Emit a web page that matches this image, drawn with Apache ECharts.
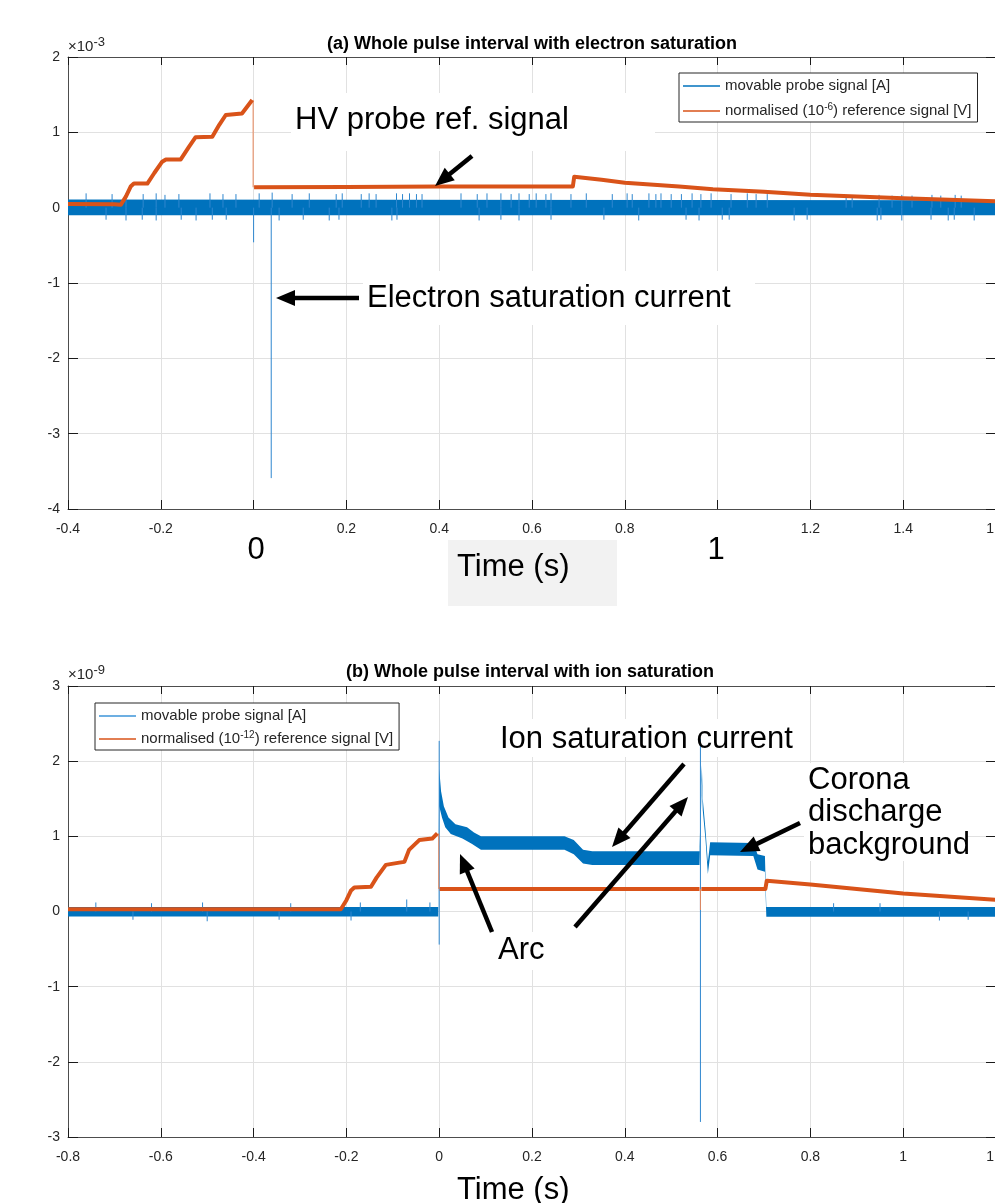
<!DOCTYPE html>
<html>
<head>
<meta charset="utf-8">
<title>Whole pulse interval</title>
<script src="https://cdn.jsdelivr.net/npm/echarts@6/dist/echarts.min.js"></script>
<style>
  html, body { margin: 0; padding: 0; background: #fff; }
  #chart { width: 995px; height: 1203px; }
</style>
</head>
<body>
<div id="chart"></div>
<script>
// ---------- (a) electron saturation, y in units of 1e-3 ----------
var xRangeA = [-0.4, 1.6];
var yRangeA = [-4, 2];
var hiddenTickLabelsA = [0, 1];   // these two were painted over by big labels

// noise band of the probe signal: upper and lower envelope
var probeHiA = [[-0.4, 0.11], [1.6, 0.10]];
var probeLoA = [[-0.4, -0.10], [1.6, -0.10]];
// small spikes out of the band [t, peak]
var probeSpikesA = [
  [-0.361, 0.19], [-0.305, 0.18], [-0.275, 0.19], [-0.238, 0.18], [-0.210, 0.19], [-0.191, 0.17],
  [-0.161, 0.18], [-0.094, 0.19], [-0.066, 0.18], [-0.038, 0.18], [0.012, 0.19], [0.040, 0.20],
  [0.083, 0.18], [0.120, 0.19], [0.178, 0.18], [0.191, 0.19], [0.232, 0.18], [0.249, 0.19],
  [0.264, 0.18], [0.308, 0.19], [0.321, 0.18], [0.336, 0.19], [0.351, 0.18], [0.363, 0.18],
  [0.447, 0.19], [0.482, 0.18], [0.503, 0.19], [0.533, 0.19], [0.555, 0.18], [0.572, 0.19],
  [0.594, 0.18], [0.609, 0.19], [0.630, 0.18], [0.641, 0.19], [0.684, 0.18], [0.717, 0.19],
  [0.773, 0.18], [0.805, 0.19], [0.816, 0.18], [0.852, 0.19], [0.867, 0.18], [0.878, 0.19],
  [0.900, 0.18], [0.922, 0.18], [0.945, 0.19], [0.964, 0.18], [0.986, 0.19], [1.029, 0.18],
  [1.064, 0.19], [1.083, 0.18], [1.107, 0.18], [1.277, 0.17], [1.290, 0.16], [1.348, 0.17],
  [1.376, 0.16], [1.397, 0.17], [1.419, 0.16], [1.462, 0.17], [1.481, 0.16], [1.512, 0.17],
  [1.525, 0.16],
  [-0.318, -0.16], [-0.275, -0.17], [-0.240, -0.16], [-0.210, -0.17], [-0.156, -0.16], [-0.124, -0.17],
  [-0.089, -0.16], [-0.059, -0.16], [0.055, -0.17], [0.107, -0.16], [0.163, -0.17], [0.184, -0.16],
  [0.298, -0.17], [0.309, -0.16], [0.486, -0.17], [0.533, -0.16], [0.572, -0.17], [0.641, -0.16],
  [0.755, -0.16], [0.830, -0.17], [0.932, -0.16], [0.960, -0.17], [1.010, -0.16], [1.025, -0.16],
  [1.165, -0.17], [1.193, -0.16], [1.344, -0.17], [1.352, -0.16], [1.397, -0.17], [1.460, -0.16],
  [1.497, -0.17], [1.510, -0.16], [1.553, -0.17]
];
// large spikes [t, from, to]
var probeBigA = [[0.0, 0, -0.46], [0.038, 0, -3.59]];
// HV reference (normalised); '-' breaks the thick line at the fast drop
var refA = [
  [-0.4, 0.05], [-0.3, 0.045], [-0.286, 0.04], [-0.275, 0.15], [-0.265, 0.28], [-0.258, 0.32],
  [-0.229, 0.32], [-0.214, 0.46], [-0.197, 0.61], [-0.189, 0.64], [-0.157, 0.64], [-0.139, 0.81],
  [-0.125, 0.935], [-0.122, 0.94], [-0.089, 0.94], [-0.074, 1.10], [-0.060, 1.23], [-0.057, 1.25],
  [-0.025, 1.25], [-0.003, 1.43], [0.0, '-'], [0.001, 0.27], [0.2, 0.275], [0.4, 0.28],
  [0.688, 0.28], [0.691, 0.41], [0.75, 0.37], [0.8, 0.33], [0.917, 0.28], [0.99, 0.245],
  [1.1, 0.21], [1.2, 0.17], [1.4, 0.125], [1.6, 0.085]
];
var refJumpsA = [[-0.001, 1.43, 0.27]];

// ---------- (b) ion saturation, y in units of 1e-9 ----------
var xRangeB = [-0.8, 1.2];
var yRangeB = [-3, 3];

var probeHiB = [
  [-0.8, 0.06], [-0.002, 0.06], [0.0, 1.9], [0.004, 1.6], [0.01, 1.4], [0.02, 1.25], [0.035, 1.16],
  [0.06, 1.12], [0.075, 1.05], [0.09, 1.0], [0.27, 1.0], [0.29, 0.95], [0.31, 0.82], [0.33, 0.80],
  [0.561, 0.80], [0.566, 1.95], [0.568, 1.5], [0.574, 1.08], [0.579, 0.66], [0.584, 0.92],
  [0.677, 0.91], [0.686, 0.76], [0.702, 0.74], [0.705, 0.06], [1.2, 0.06]
];
var probeLoB = [
  [-0.8, -0.065], [-0.002, -0.065], [0.0, 1.4], [0.006, 1.25], [0.013, 1.12], [0.025, 1.03],
  [0.05, 0.97], [0.07, 0.9], [0.09, 0.82], [0.27, 0.82], [0.29, 0.76], [0.31, 0.64], [0.33, 0.62],
  [0.561, 0.62], [0.566, 1.75], [0.568, 1.35], [0.574, 0.95], [0.579, 0.5], [0.584, 0.75],
  [0.677, 0.74], [0.686, 0.56], [0.702, 0.53], [0.705, -0.07], [1.2, -0.07]
];
var probeSpikesB = [
  [-0.74, 0.12], [-0.62, 0.11], [-0.51, 0.12], [-0.32, 0.11], [-0.17, 0.12], [-0.07, 0.16], [-0.02, 0.12],
  [-0.66, -0.11], [-0.50, -0.13], [-0.345, -0.11], [-0.19, -0.12], [0.85, 0.11], [0.95, 0.11],
  [1.078, -0.12], [1.14, -0.11]
];
var probeBigB = [[0.0, -0.44, 2.27], [0.563, -2.8, 2.3]];
var refB = [
  [-0.8, 0.03], [-0.212, 0.03], [-0.2, 0.15], [-0.19, 0.28], [-0.183, 0.32], [-0.147, 0.33],
  [-0.135, 0.45], [-0.115, 0.62], [-0.112, 0.63], [-0.086, 0.65], [-0.075, 0.66], [-0.065, 0.82],
  [-0.043, 0.95], [-0.015, 0.97], [-0.004, 1.04], [0.0, '-'], [0.001, 0.30], [0.3, 0.30],
  [0.561, 0.30], [0.5625, '-'], [0.565, 0.30], [0.703, 0.30], [0.706, 0.41], [0.8, 0.36],
  [1.0, 0.24], [1.2, 0.155]
];
var refJumpsB = [[-0.001, 1.04, 0.30], [0.563, 0.30, 0.02]];

var probeName = 'movable probe signal [A]';
var refNameA = 'normalised (10-6) reference signal [V]';
var refNameB = 'normalised (10-12) reference signal [V]';

var BLUE = '#0072BD';
var SPIKE = '#2f87cf';
var ORANGE = '#D95319';
var AXIS = '#4d4d4d';
var LABEL = '#262626';
var FONT = 'Arial, "Liberation Sans", sans-serif';

var myChart = echarts.init(document.getElementById('chart'));

function fmt (v) {
  return String(Math.round(v * 10) / 10);
}

// vertical segments with gaps in between
function segData (list) {
  var out = [];
  list.forEach(function (s) {
    var from = s.length > 2 ? s[1] : 0;
    var to = s.length > 2 ? s[2] : s[1];
    out.push([s[0], from], [s[0], to], [s[0], '-']);
  });
  return out;
}

// filled band between two envelopes
function band (ax, hi, lo) {
  return {
    type: 'custom', xAxisIndex: ax, yAxisIndex: ax, silent: true, clip: true, z: 2,
    data: [[hi[0][0], hi[0][1]]],
    renderItem: function (params, api) {
      var pts = hi.map(function (p) { return api.coord(p); })
        .concat(lo.slice().reverse().map(function (p) { return api.coord(p); }));
      return { type: 'polygon', shape: { points: pts }, style: { fill: BLUE } };
    }
  };
}

function thin (ax, name, data, color) {
  return {
    type: 'line', name: name, xAxisIndex: ax, yAxisIndex: ax, data: data,
    symbol: 'none', connectNulls: false, silent: true, z: 3,
    lineStyle: { color: color, width: 1 }, itemStyle: { color: color }
  };
}

function thick (ax, name, data) {
  return {
    type: 'line', name: name, xAxisIndex: ax, yAxisIndex: ax, data: data,
    symbol: 'none', connectNulls: false, silent: true, z: 4,
    lineStyle: { color: ORANGE, width: 4, join: 'round' }, itemStyle: { color: ORANGE }
  };
}

function xAxisPair (gi, range, hidden) {
  return [{
    type: 'value', gridIndex: gi, min: range[0], max: range[1], interval: 0.2, position: 'bottom',
    axisLine: { show: true, onZero: false, lineStyle: { color: AXIS, width: 1 } },
    axisTick: { show: true, inside: true, length: 9, lineStyle: { color: '#1a1a1a' } },
    axisLabel: {
      color: LABEL, fontSize: 14, fontFamily: FONT, margin: 13, showMinLabel: true, showMaxLabel: true,
      formatter: function (v) {
        for (var i = 0; i < hidden.length; i++) if (Math.abs(v - hidden[i]) < 1e-9) return '';
        return fmt(v);
      }
    },
    splitLine: { show: true, lineStyle: { color: '#e1e1e1', width: 1 } }
  }, {
    type: 'value', gridIndex: gi, min: range[0], max: range[1], interval: 0.2, position: 'top',
    axisLine: { show: true, onZero: false, lineStyle: { color: AXIS, width: 1 } },
    axisTick: { show: true, inside: true, length: 8, lineStyle: { color: '#1a1a1a' } },
    axisLabel: { show: false }, splitLine: { show: false }
  }];
}

function yAxisPair (gi, range) {
  return [{
    type: 'value', gridIndex: gi, min: range[0], max: range[1], interval: 1, position: 'left',
    axisLine: { show: true, onZero: false, lineStyle: { color: AXIS, width: 1 } },
    axisTick: { show: true, inside: true, length: 10, lineStyle: { color: '#1a1a1a' } },
    axisLabel: { color: LABEL, fontSize: 14, fontFamily: FONT, margin: 8 },
    splitLine: { show: true, lineStyle: { color: '#e1e1e1', width: 1 } }
  }, {
    type: 'value', gridIndex: gi, min: range[0], max: range[1], interval: 1, position: 'right',
    axisLine: { show: true, onZero: false, lineStyle: { color: AXIS, width: 1 } },
    axisTick: { show: true, inside: true, length: 10, lineStyle: { color: '#1a1a1a' } },
    axisLabel: { show: false }, splitLine: { show: false }
  }];
}

var legendRich = {
  b: { fontSize: 15, fontFamily: FONT, color: LABEL, lineHeight: 18 },
  s: { fontSize: 10, fontFamily: FONT, color: LABEL, lineHeight: 5, verticalAlign: 'top' }
};
function legendText (name) {
  if (name === refNameA) return '{b|normalised (10}{s|-6}{b|) reference signal [V]}';
  if (name === refNameB) return '{b|normalised (10}{s|-12}{b|) reference signal [V]}';
  return '{b|' + name + '}';
}
function legend (left, top, names, gap, blue) {
  return {
    left: left, top: top, orient: 'vertical', selectedMode: false,
    padding: [4, 6, 2, 4], itemGap: gap, itemWidth: 37, itemHeight: 1.4, icon: 'rect',
    backgroundColor: '#fff', borderColor: '#262626', borderWidth: 1, borderRadius: 0,
    textStyle: { fontSize: 15, fontFamily: FONT, color: LABEL, lineHeight: 18, rich: legendRich },
    formatter: legendText,
    data: [
      { name: names[0], icon: 'rect', itemStyle: { color: blue, borderWidth: 0 } },
      { name: names[1], icon: 'rect', itemStyle: { color: ORANGE, borderWidth: 0 } }
    ]
  };
}

// ---------- annotations (page pixels) ----------
function txt (s, x, y, size, opt) {
  opt = opt || {};
  return {
    type: 'text', z: 20, silent: true,
    style: {
      text: s, x: x, y: y, fill: '#000',
      font: (opt.bold ? 'bold ' : '') + size + 'px ' + FONT,
      textAlign: opt.align || 'left', align: opt.align || 'left',
      textVerticalAlign: 'middle', verticalAlign: 'middle'
    }
  };
}
function box (x, y, w, h, color) {
  return { type: 'rect', z: 1, silent: true, shape: { x: x, y: y, width: w, height: h }, style: { fill: color || '#fff' } };
}
function arrow (x1, y1, x2, y2) {
  var dx = x2 - x1, dy = y2 - y1, len = Math.sqrt(dx * dx + dy * dy);
  var ux = dx / len, uy = dy / len, hl = 19, hw = 8;
  var bx = x2 - ux * hl, by = y2 - uy * hl;
  return [
    { type: 'line', z: 20, silent: true, shape: { x1: x1, y1: y1, x2: bx + ux * 2, y2: by + uy * 2 }, style: { stroke: '#000', lineWidth: 4.5 } },
    { type: 'polygon', z: 20, silent: true, shape: { points: [[x2, y2], [bx - uy * hw, by + ux * hw], [bx + uy * hw, by - ux * hw]] }, style: { fill: '#000' } }
  ];
}
function exponent (x, y, e) {
  return {
    type: 'text', z: 20, silent: true,
    style: {
      text: '{b|×10}{s|' + e + '}', x: x, y: y,
      textAlign: 'left', align: 'left', textVerticalAlign: 'top', verticalAlign: 'top',
      rich: {
        b: { fontSize: 15, fontFamily: FONT, fill: LABEL, color: LABEL, lineHeight: 22 },
        s: { fontSize: 13, fontFamily: FONT, fill: LABEL, color: LABEL, lineHeight: 11, verticalAlign: 'top' }
      }
    }
  };
}

var elements = [
  txt('(a) Whole pulse interval with electron saturation', 532, 44, 18, { bold: true, align: 'center' }),
  txt('(b) Whole pulse interval with ion saturation', 530, 672, 18, { bold: true, align: 'center' }),
  exponent(68, 36, '-3'),
  exponent(68, 664, '-9'),
  box(291, 93, 364, 58),
  txt('HV probe ref. signal', 295, 120, 31),
  box(363, 271, 392, 54),
  txt('Electron saturation current', 367, 298, 31),
  txt('0', 256, 550, 31, { align: 'center' }),
  txt('1', 716, 550, 31, { align: 'center' }),
  box(448, 540, 169, 66, '#f2f2f2'),
  txt('Time (s)', 457, 567, 31),
  box(496, 719, 310, 38),
  txt('Ion saturation current', 500, 739, 31),
  box(804, 763, 164, 98),
  txt('Corona', 808, 780, 31),
  txt('discharge', 808, 812, 31),
  txt('background', 808, 845, 31),
  box(494, 932, 58, 38),
  txt('Arc', 498, 950, 31),
  txt('Time (s)', 457, 1190, 31)
];
elements = elements
  .concat(arrow(472, 156, 435, 186))
  .concat(arrow(359, 298, 276, 298))
  .concat(arrow(684, 764, 612, 847))
  .concat(arrow(575, 927, 688, 797))
  .concat(arrow(492, 932, 460, 854))
  .concat(arrow(800, 823, 740, 852));

myChart.setOption({
  animation: false,
  backgroundColor: '#fff',
  grid: [
    { left: 68, top: 57, width: 928, height: 452, containLabel: false, outerBoundsMode: 'none' },
    { left: 68, top: 686, width: 928, height: 451, containLabel: false, outerBoundsMode: 'none' }
  ],
  xAxis: xAxisPair(0, xRangeA, hiddenTickLabelsA).concat(xAxisPair(1, xRangeB, [])),
  yAxis: yAxisPair(0, yRangeA).concat(yAxisPair(1, yRangeB)),
  legend: [
    legend(679, 73, [probeName, refNameA], 7, BLUE),
    legend(95, 703, [probeName, refNameB], 5, '#3d95d8')
  ],
  graphic: { elements: elements },
  series: [
    band(0, probeHiA, probeLoA),
    thin(0, probeName, segData(probeSpikesA), SPIKE),
    thin(0, 'bigA', segData(probeBigA), SPIKE),
    thin(0, 'jumpA', segData(refJumpsA), '#e8875a'),
    thick(0, refNameA, refA),
    band(2, probeHiB, probeLoB),
    thin(2, probeName, segData(probeSpikesB), SPIKE),
    thin(2, 'bigB', segData(probeBigB), SPIKE),
    thin(2, 'jumpB', segData(refJumpsB), '#e8875a'),
    thick(2, refNameB, refB)
  ]
});
</script>
</body>
</html>
